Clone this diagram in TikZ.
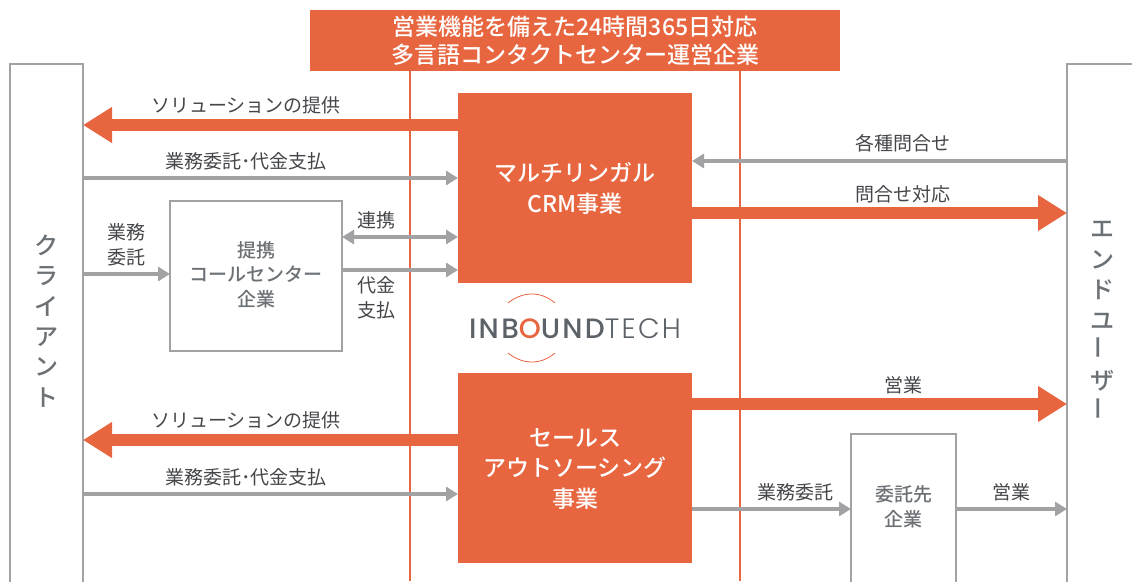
\documentclass[tikz,border=0pt]{standalone}
\usepackage{fontspec}
\setmainfont{Noto Sans CJK JP}
\newfontfamily\medfont{Noto Sans CJK JP Medium}
\newfontfamily\logofont[LetterSpace=8.2]{Poppins Medium}
\newfontfamily\logolight[LetterSpace=8.2]{Poppins Light}
\usetikzlibrary{arrows.meta}
\definecolor{inborange}{HTML}{E7653F}
\definecolor{inbgray}{HTML}{A2A2A4}
\definecolor{inbtext}{HTML}{444649}
\definecolor{inbbox}{HTML}{6C7176}
\definecolor{inblogo}{HTML}{5C6268}

\begin{document}
\begin{tikzpicture}[x=1pt,y=-1pt,inner sep=0pt,outer sep=0pt,
  orangebox/.style={rectangle,fill=inborange},
  whitelabel/.style={text=white,align=center,font=\medfont\fontsize{23}{30.5}\selectfont},
  graybox/.style={rectangle,draw=inbgray,line width=1.6pt,fill=white},
  label/.style={text=inbtext,align=center,font=\fontsize{19}{24.5}\selectfont},
  boxlabel/.style={text=inbbox,align=center,font=\medfont\fontsize{19}{24.5}\selectfont},
  sidelabel/.style={text=inbbox,align=center,font=\medfont\fontsize{24}{30.4}\selectfont},
  bigarrow/.style={draw=inborange,line width=11.4pt,-{Triangle[length=29pt,width=34pt,fill=inborange]}},
  smallarrow/.style={draw=inbgray,line width=4.3pt,-{Triangle[length=12pt,width=14pt,fill=inbgray]}},
  bothways/.style={draw=inbgray,line width=4.3pt,{Triangle[length=12pt,width=14pt,fill=inbgray]}-{Triangle[length=12pt,width=14pt,fill=inbgray]}}]
\useasboundingbox (0,0) rectangle (1132,581);
\clip (0,0) rectangle (1132,581);
%Vertical Lines
\coordinate (LineOneTop) at (410,60);
\coordinate (LineOneEnd) at (410,581);
\coordinate (LineTwoTop) at (740,60);
\coordinate (LineTwoEnd) at (740,581);
\draw [inborange,line width=2pt] (LineOneTop) -- (LineOneEnd);
\draw [inborange,line width=2pt] (LineTwoTop) -- (LineTwoEnd);
%Boxes
\node at (575,40.5) [orangebox,minimum width=530pt,minimum height=61pt] (Title) {};
\node at (46.5,342) [graybox,minimum width=73pt,minimum height=556pt] (Client) {};
\node at (1102.5,342) [graybox,minimum width=71pt,minimum height=556pt] (User) {};
\node at (575,188) [orangebox,minimum width=234pt,minimum height=190pt] (Crm) {};
\node at (575,468) [orangebox,minimum width=234pt,minimum height=190pt] (Sales) {};
\node at (256,276) [graybox,minimum width=172pt,minimum height=150pt] (Partner) {};
\node at (903.5,517) [graybox,minimum width=105pt,minimum height=166pt] (Vendor) {};
%Box Labels
\node at (575,40.5) [whitelabel,font=\medfont\fontsize{23}{27.5}\selectfont] (TitleText) {営業機能を備えた24時間365日対応\\多言語コンタクトセンター運営企業};
\node at (575,188.5) [whitelabel] (CrmText) {マルチリンガル\\CRM事業};
\node at (575,469) [whitelabel] (SalesText) {セールス\\アウトソーシング\\事業};
\node at (256,274.5) [boxlabel] (PartnerText) {提携\\コールセンター\\企業};
\node at (903.5,507) [boxlabel] (VendorText) {委託先\\企業};
\node at (46.5,321) [sidelabel] (ClientText) {ク\\ラ\\イ\\ア\\ン\\ト};
\node at (1102,321) [sidelabel] (UserText) {エ\\ン\\ド\\ユ\\\rotatebox{90}{ー}\\ザ\\\rotatebox{90}{ー}};
%Arrow Heights
\coordinate (SolOne) at (0,125);
\coordinate (PayOne) at (0,178);
\coordinate (Link) at (0,237);
\coordinate (Fee) at (0,270);
\coordinate (Order) at (0,274);
\coordinate (Ask) at (0,161);
\coordinate (Reply) at (0,213);
\coordinate (Sell) at (0,404);
\coordinate (SolTwo) at (0,440);
\coordinate (PayTwo) at (0,494);
\coordinate (Out) at (0,509);
%connections
\draw [bigarrow] (Crm.west |- SolOne) -- (Client.east |- SolOne);
\draw [smallarrow] (Client.east |- PayOne) -- (Crm.west |- PayOne);
\draw [bothways] (Partner.east |- Link) -- (Crm.west |- Link);
\draw [smallarrow] (Partner.east |- Fee) -- (Crm.west |- Fee);
\draw [smallarrow] (Client.east |- Order) -- (Partner.west |- Order);
\draw [smallarrow] (User.west |- Ask) -- (Crm.east |- Ask);
\draw [bigarrow] (Crm.east |- Reply) -- (User.west |- Reply);
\draw [bigarrow] (Sales.east |- Sell) -- (User.west |- Sell);
\draw [bigarrow] (Sales.west |- SolTwo) -- (Client.east |- SolTwo);
\draw [smallarrow] (Client.east |- PayTwo) -- (Sales.west |- PayTwo);
\draw [smallarrow] (Sales.east |- Out) -- (Vendor.west |- Out);
\draw [smallarrow] (Vendor.east |- Out) -- (User.west |- Out);
%Connector Labels
\node at (246,105) [label] (SolOneText) {ソリューションの提供};
\node at (246,161) [label] (PayOneText) {業務委託･代金支払};
\node at (126,245) [label] (OrderText) {業務\\委託};
\node at (376,220) [label] (LinkText) {連携};
\node at (376,298) [label] (FeeText) {代金\\支払};
\node at (903,143) [label] (AskText) {各種問合せ};
\node at (903,194) [label] (ReplyText) {問合せ対応};
\node at (903,385) [label] (SellText) {営業};
\node at (246,420) [label] (SolTwoText) {ソリューションの提供};
\node at (246,477) [label] (PayTwoText) {業務委託･代金支払};
\node at (795,492) [label] (OutText) {業務委託};
\node at (1011,492) [label] (OutSellText) {営業};
%Logo
\node at (575,329) [text=inblogo,font=\logofont\fontsize{28}{28}\selectfont] (Logo) {INB\textcolor{inborange}{O}UND{\logolight TECH}};
\coordinate (ArcTopLeft) at (508,303);
\coordinate (ArcTopRight) at (555,303);
\coordinate (ArcLowLeft) at (508,353);
\coordinate (ArcLowRight) at (555,353);
\draw [inborange,line width=.8pt] (ArcTopLeft) .. controls (523,291) and (541,291) .. (ArcTopRight);
\draw [inborange,line width=.8pt] (ArcLowLeft) .. controls (523,365) and (541,365) .. (ArcLowRight);
\end{tikzpicture}
\end{document}
